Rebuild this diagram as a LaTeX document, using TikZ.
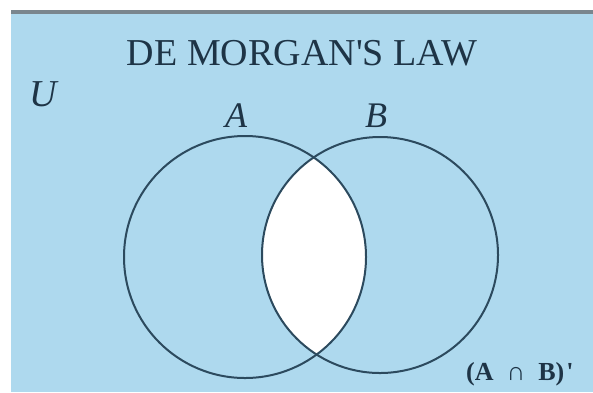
\documentclass[tikz,border=0pt]{standalone}
\usepackage{fontspec}
\setmainfont{Liberation Serif}
\definecolor{bgblue}{HTML}{AED9EE}
\definecolor{linec}{HTML}{2C4A5E}
\definecolor{txtc}{HTML}{1E3446}
\definecolor{topline}{HTML}{7A868E}
\begin{document}
\begin{tikzpicture}[x=1pt,y=-1pt,
  setline/.style={draw=linec,line width=2pt},
  lbl/.style={text=txtc,inner sep=0pt}]
\useasboundingbox (0,0) rectangle (593,392);
\fill[white] (0,0) rectangle (593,392);
\fill[bgblue] (11,14) rectangle (593,392);
\fill[topline] (11,10) rectangle (593,14);
% lens
\begin{scope}
  \clip (245,257) circle (121);
  \fill[white] (380,255) circle (118);
\end{scope}
\draw[setline] (245,257) circle (121);
\draw[setline] (380,255) circle (118);
% labels
\node[lbl,anchor=base,font=\fontsize{38}{40}\selectfont] (title) at (302,65) {DE MORGAN\textquotesingle S LAW};
\node[lbl,anchor=base west,font=\fontsize{38}{40}\selectfont\itshape] (U) at (29,106) {U};
\node[lbl,anchor=base,font=\fontsize{36}{38}\selectfont\itshape] (A) at (236,127) {A};
\node[lbl,anchor=base,font=\fontsize{36}{38}\selectfont\itshape] (B) at (376,127) {B};
\node[lbl,anchor=base west,font=\fontsize{26}{28}\selectfont\bfseries] (AB) at (466,380) {(A\hspace{0.5em}∩\hspace{0.5em}B)\hspace{0.08em}\textquotesingle};
\end{tikzpicture}
\end{document}
